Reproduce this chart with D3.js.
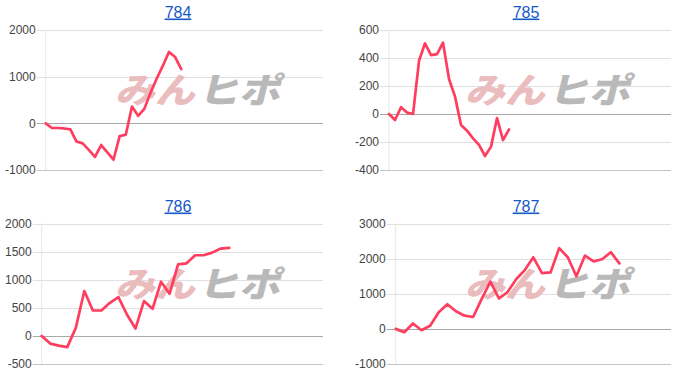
<!DOCTYPE html>
<html>
<head>
<meta charset="utf-8">
<script src="https://cdn.jsdelivr.net/npm/d3@7/dist/d3.min.js"></script>
<style>
  html, body { margin: 0; padding: 0; background: #fff; }
  svg { display: block; }
</style>
</head>
<body>
<div id="svgcontainer"></div>
<script>
// machine numbers (chart titles)
const titles = ['784', '785', '786', '787']

// series values, one point per step
const values_784 = [0, -100, -100, -110, -130, -390, -430, -570, -720, -465, -620, -780,
    -275, -245, 360, 160, 310, 650, 955, 1230, 1530, 1420, 1160]
const values_785 = [0, -43, 48, 10, 0, 380, 505, 421, 428, 510, 250, 124, -79, -119,
    -174, -221, -300, -233, -29, -186, -110]
const values_786 = [0, -137, -173, -200, 143, 798, 452, 452, 589, 690, 381, 131, 619,
    482, 964, 750, 1274, 1292, 1435, 1435, 1482, 1554, 1565]
const values_787 = [0, -96, 154, -38, 87, 471, 702, 500, 375, 337, 856, 1346, 865, 1048,
    1413, 1673, 2038, 1587, 1606, 2298, 2038, 1500, 2087, 1923, 1981, 2183, 1865]
const series = [values_784, values_785, values_786, values_787]

// x domain end (steps) for each chart
const x_ends = [45, 47, 33, 32]

// y tick labels
const ticks_784 = [-1000, 0, 1000, 2000]
const ticks_785 = [-400, -200, 0, 200, 400, 600]
const ticks_786 = [-500, 0, 500, 1000, 1500, 2000]
const ticks_787 = [-1000, 0, 1000, 2000, 3000]
const y_ticks = [ticks_784, ticks_785, ticks_786, ticks_787]

const panel_w = 350, panel_h = 194
const line_color = '#ff3d5f'

const svg = d3.select('#svgcontainer')
    .append('svg')
    .attr('width', 700)
    .attr('height', 388)

function build_panel(i) {
    const col = i % 2, row = Math.floor(i / 2)
    const g = svg.append('g')
        .attr('transform', 'translate(' + (col * panel_w) + ',' + (row * panel_h) + ')')

    const ticks = y_ticks[i]
    const top = row == 0 ? 30 : 29.5
    const bottom = 170
    const right = col == 0 ? 323 : 321

    // labels first, so the plot's left edge can follow their width
    const labels = g.append('g')
    const label_nodes = labels.selectAll('text')
        .data(ticks)
        .enter().append('text')
        .attr('font-family', 'Arial, "Liberation Sans", sans-serif')
        .attr('font-size', 12)
        .attr('fill', '#444')
        .attr('text-anchor', 'end')
        .attr('dy', '0.35em')
        .text(d => d)
    let max_w = 0
    label_nodes.each(function () { max_w = Math.max(max_w, this.getComputedTextLength()) })
    const label_end = 5 + max_w
    const left = label_end + 10

    const x = d3.scaleLinear().domain([0, x_ends[i]]).range([left, right])
    const y = d3.scaleLinear().domain([ticks[0], ticks[ticks.length - 1]]).range([bottom, top])

    label_nodes.attr('x', label_end).attr('y', d => y(d))

    // vertical axis line
    g.append('line')
        .attr('x1', left).attr('x2', left)
        .attr('y1', top).attr('y2', bottom)
        .attr('stroke', '#e6e6e6')

    // gridlines
    g.selectAll('line.grid')
        .data(ticks)
        .enter().append('line')
        .attr('class', 'grid')
        .attr('x1', label_end + 1).attr('x2', right)
        .attr('y1', d => Math.round(y(d)) + 0.5).attr('y2', d => Math.round(y(d)) + 0.5)
        .attr('stroke', d => d == 0 ? '#a8a8a8' : (d == ticks[0] ? '#c4c4c4' : '#e0e0e0'))

    // watermark
    const cx = panel_w / 2 + 20, cy = 103
    const wm = g.append('g')
        .attr('transform', 'translate(' + cx + ',' + cy + ') skewX(-14)')
        .attr('font-family', '"Noto Sans CJK JP", sans-serif')
        .attr('font-weight', 900)
        .attr('font-size', 35)
    wm.append('text')
        .attr('x', -80).attr('y', 0)
        .attr('textLength', 80).attr('lengthAdjust', 'spacingAndGlyphs')
        .attr('fill', '#ebbcbd')
        .text('みん')
    wm.append('text')
        .attr('x', 3).attr('y', 0)
        .attr('textLength', 82).attr('lengthAdjust', 'spacingAndGlyphs')
        .attr('fill', '#b9b9b9')
        .text('ヒポ')

    // the line
    const line = d3.line()
        .x((d, k) => x(k))
        .y(d => y(d))
    g.append('path')
        .datum(series[i])
        .attr('d', line)
        .attr('fill', 'none')
        .attr('stroke', line_color)
        .attr('stroke-width', 2.7)
        .attr('stroke-linejoin', 'round')
        .attr('stroke-linecap', 'round')

    // title link
    g.append('text')
        .attr('x', col == 0 ? 178 : 176)
        .attr('y', 17.5)
        .attr('text-anchor', 'middle')
        .attr('font-family', 'Arial, "Liberation Sans", sans-serif')
        .attr('font-size', 16)
        .attr('fill', '#1558c8')
        .attr('text-decoration', 'underline')
        .text(titles[i])
}

for (let i = 0; i < titles.length; i++) {
    build_panel(i)
}
</script>
</body>
</html>
